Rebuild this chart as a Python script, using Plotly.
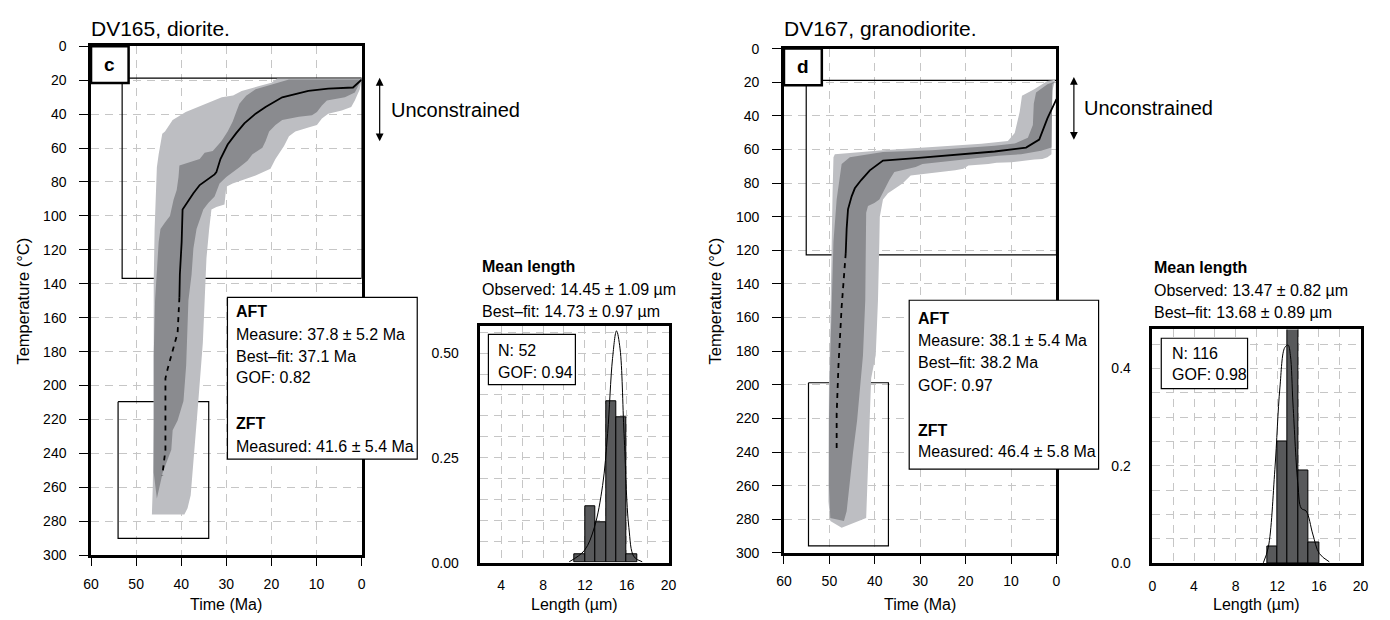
import plotly.graph_objects as go

W, H = 1390, 620
FONT = "Liberation Sans, Arial, Helvetica, sans-serif"
LIGHT = "#bdbec2"
DARK = "#8a8b8f"
BAR = "#58595b"
GRID = "#c6c6c6"

# ---------------- DV165 (panel c) ----------------
c_light_time = [0.0, 0.4, 1.5, 2.3, 4.4, 7.4, 8.8, 9.9, 11.8, 14.7, 16.1, 17.2, 19.1, 20.2, 23.5, 26.4, 28.6, 30.0,
                30.4, 32.2, 33.3, 33.8, 34.4, 34.8, 35.2, 36.2, 37.1, 37.9, 38.6, 39.3,
                46.5, 46.3, 46.1, 46.1, 46.1, 45.9, 45.7, 45.6, 45.4, 45.0, 44.6, 44.2, 43.6, 41.9, 39.0,
                36.0, 34.6, 31.0, 28.5, 26.6, 22.7, 20.0, 18.7]
c_light_temp = [19.0, 25.3, 32.0, 35.8, 37.8, 39.7, 42.5, 46.4, 47.9, 50.2, 53.1, 58.8, 66.5, 72.2, 76.1, 78.9, 80.9, 82.8,
                93.3, 94.7, 96.2, 107.7, 124.9, 149.8, 174.6, 209.0, 239.7, 264.6, 272.3, 276.0,
                276.0, 258.9, 220.6, 182.3, 138.3, 107.7, 92.4, 80.9, 71.3, 63.6, 57.9, 51.5, 50.2, 43.5, 38.7,
                35.5, 33.9, 30.1, 29.0, 26.3, 23.4, 21.5, 19.0]

c_dark_time = [16.1, 20.5, 23.5, 25.6, 27.1, 27.8, 28.6, 29.7, 31.1, 33.0, 34.8, 35.9, 38.1, 40.4, 40.6, 41.0, 41.7,
               42.1, 42.5, 43.6, 44.6, 45.0, 45.4, 45.8, 46.1, 46.1, 45.4,
               44.1, 42.2, 41.9, 40.8, 39.5, 38.9, 38.4, 37.7, 37.3, 36.6, 35.1, 34.0, 32.6, 31.5, 30.0, 27.1, 25.3,
               24.2, 22.0, 21.3, 20.5, 19.1, 17.6, 13.9, 11.0, 9.9, 8.8, 7.7, 3.7, 1.5, 0.4, 0.0]
c_dark_temp = [19.6, 23.0, 25.3, 29.1, 33.9, 38.7, 44.5, 50.2, 56.0, 61.7, 62.7, 66.5, 68.4, 70.3, 77.0, 84.7, 90.4,
               96.2, 100.0, 103.9, 107.7, 115.3, 134.5, 150.0, 182.3, 251.2, 266.5,
               251.2, 237.8, 226.3, 220.6, 209.1, 188.0, 149.7, 134.5, 119.2, 107.7, 96.2, 92.4, 88.5, 80.9, 77.0, 71.3, 67.4,
               63.6, 59.8, 56.0, 50.2, 46.4, 43.5, 41.6, 40.6, 38.7, 34.9, 32.0, 30.1, 27.2, 21.5, 19.6]

c_best_time = [0.0, 1.9, 7.4, 11.8, 17.6, 21.3, 23.5, 26.0, 27.8, 29.7, 31.3, 32.2, 32.6, 35.9, 37.3, 39.7, 39.9, 40.3, 40.4]
c_best_temp = [19.6, 24.3, 24.9, 26.3, 30.1, 35.8, 39.7, 45.4, 51.2, 57.9, 66.5, 74.2, 75.5, 81.8, 86.6, 96.2, 115.3, 134.5, 147.9]
c_dash_time = [40.4, 40.8, 43.0, 43.5, 43.5, 44.2]
c_dash_temp = [147.9, 168.9, 190.0, 195.7, 237.8, 253.1]

c_box1_time = [53.1, 0.0]
c_box1_temp = [18.8, 136.8]
c_box2_time = [54.0, 33.9]
c_box2_temp = [209.5, 290.1]

c_len_bins = [11.5, 12.5, 13.5, 14.5, 15.5, 16.5]
c_len_freq = [0.019, 0.135, 0.096, 0.385, 0.346, 0.019]
c_fit_len = [10.5, 11.95, 12.9, 13.69, 14.17, 14.64, 15.02, 15.36, 15.74, 16.2, 16.69, 17.48]
c_fit_freq = [0.002, 0.029, 0.084, 0.184, 0.308, 0.487, 0.553, 0.51, 0.308, 0.084, 0.014, 0.002]

# ---------------- DV167 (panel d) ----------------
d_light_time = [0.3, 0.9, 1.1, 1.1, 2.0, 3.1, 4.9, 9.9, 13.2, 15.0, 19.4, 20.5, 22.3, 28.8, 32.1, 33.9, 36.1, 37.1,
                38.2, 38.9, 39.0, 39.1, 39.3, 39.5, 39.8, 40.8, 41.0, 41.3, 41.5, 41.9,
                47.3, 49.8, 50.2, 50.2, 50.1, 49.8, 49.7, 49.6, 49.3, 49.1, 48.8, 38.2, 27.4, 16.5, 10.7, 9.2,
                8.1, 7.6, 4.9, 2.0]
d_light_temp = [18.5, 25.0, 45.0, 62.8, 64.7, 65.7, 66.0, 67.6, 67.9, 68.6, 69.5, 71.5, 72.4, 74.4, 75.5, 80.2, 84.0, 86.0,
                89.8, 100.0, 114.9, 134.3, 149.7, 163.2, 182.5, 196.1, 211.5, 240.5, 259.8, 279.2,
                285.0, 281.1, 269.5, 240.5, 201.9, 163.2, 143.9, 114.9, 86.0, 64.7, 62.8, 60.4, 58.5, 56.6, 55.0, 50.2,
                37.6, 28.0, 24.1, 19.3]

d_dark_time = [0.3, 0.9, 1.1, 3.4, 7.8, 12.8, 19.4, 29.5, 31.0, 35.7, 36.8, 37.9, 39.0, 40.1, 41.5, 41.9, 42.0, 42.1,
               42.6, 43.3, 43.9, 44.8, 45.5, 46.2, 46.8,
               49.8, 50.1, 50.1, 49.8, 49.4, 49.1, 48.4, 47.7, 47.3, 45.5, 41.1, 38.2, 27.4, 19.4, 13.6, 9.2, 6.3,
               5.2, 5.0, 4.5, 2.0]
d_dark_temp = [19.5, 21.2, 58.9, 60.8, 62.8, 63.7, 65.7, 68.6, 70.5, 73.4, 78.2, 84.0, 89.8, 91.8, 93.7, 97.6, 114.9, 149.7,
               182.5, 201.9, 221.2, 240.5, 259.8, 275.3, 281.1,
               279.2, 259.8, 221.2, 182.5, 149.7, 114.9, 89.8, 76.3, 68.6, 64.7, 62.8, 61.5, 60.5, 59.0, 57.8, 56.5, 53.1,
               45.4, 32.8, 26.1, 21.2]

d_best_time = [0.0, 2.0, 3.8, 6.7, 13.6, 23.7, 31.0, 38.2, 41.1, 43.0, 44.4, 45.1, 45.9, 46.2, 46.4]
d_best_temp = [30.0, 41.5, 54.1, 58.9, 61.2, 63.7, 65.1, 66.6, 72.4, 78.2, 83.1, 87.9, 95.6, 107.2, 121.7]
d_dash_time = [46.4, 46.9, 47.3, 48.0, 48.4, 48.4]
d_dash_temp = [121.7, 140.0, 153.6, 188.4, 217.4, 238.0]

d_box1_time = [55.1, 0.0]
d_box1_temp = [18.9, 122.7]
d_box2_time = [54.6, 37.0]
d_box2_temp = [198.8, 295.8]

d_len_bins = [11.5, 12.5, 13.5, 14.5, 15.5]
d_len_freq = [0.034, 0.25, 0.483, 0.19, 0.043]
d_fit_len = [10.66, 11.14, 11.77, 12.25, 12.72, 13.04, 13.26, 13.51, 13.99, 14.3, 14.78, 15.41, 16.04, 17.0]
d_fit_freq = [0.001, 0.033, 0.193, 0.36, 0.443, 0.448, 0.427, 0.327, 0.16, 0.113, 0.107, 0.06, 0.02, 0.003]

# ---------------- texts ----------------
c_title = "DV165, diorite."
d_title = "DV167, granodiorite."
c_aft = ["<b>AFT</b>", "Measure: 37.8 ± 5.2 Ma", "Best–fit: 37.1 Ma", "GOF: 0.82", "<b>ZFT</b>", "Measured: 41.6 ± 5.4 Ma"]
d_aft = ["<b>AFT</b>", "Measure: 38.1 ± 5.4 Ma", "Best–fit: 38.2 Ma", "GOF: 0.97", "<b>ZFT</b>", "Measured: 46.4 ± 5.8 Ma"]
c_mean = ["<b>Mean length</b>", "Observed: 14.45 ± 1.09 µm", "Best–fit: 14.73 ± 0.97 µm"]
d_mean = ["<b>Mean length</b>", "Observed: 13.47 ± 0.82 µm", "Best–fit: 13.68 ± 0.89 µm"]
c_n = ["N: 52", "GOF: 0.94"]
d_n = ["N: 116", "GOF: 0.98"]


def px(x):
    return x / W


def py(y):
    return 1 - y / H


fig = go.Figure()


def add_main(xa, ya, lt, lT, dt, dT, bt, bT, st, sT, b1t, b1T, b2t, b2T):
    for bx, bT_ in ((b1t, b1T), (b2t, b2T)):
        fig.add_trace(go.Scatter(x=[bx[0], bx[1], bx[1], bx[0], bx[0]], y=[bT_[0], bT_[0], bT_[1], bT_[1], bT_[0]],
                                 mode="lines", line=dict(color="black", width=1.2), xaxis=xa, yaxis=ya,
                                 hoverinfo="skip", showlegend=False))
    fig.add_trace(go.Scatter(x=lt, y=lT, fill="toself", fillcolor=LIGHT, mode="lines", line=dict(width=0),
                             xaxis=xa, yaxis=ya, showlegend=False))
    fig.add_trace(go.Scatter(x=dt, y=dT, fill="toself", fillcolor=DARK, mode="lines", line=dict(width=0),
                             xaxis=xa, yaxis=ya, showlegend=False))
    fig.add_trace(go.Scatter(x=bt, y=bT, mode="lines", line=dict(color="black", width=1.8),
                             xaxis=xa, yaxis=ya, showlegend=False))
    fig.add_trace(go.Scatter(x=st, y=sT, mode="lines", line=dict(color="black", width=1.8, dash="5px,5px"),
                             xaxis=xa, yaxis=ya, showlegend=False))


def add_hist(xa, ya, bins, freq, fl, ff):
    fig.add_trace(go.Bar(x=bins, y=freq, width=1, marker=dict(color=BAR, line=dict(color="black", width=1)),
                         xaxis=xa, yaxis=ya, showlegend=False))
    fig.add_trace(go.Scatter(x=fl, y=ff, mode="lines", line=dict(color="black", width=1, shape="spline"),
                             xaxis=xa, yaxis=ya, showlegend=False))


add_main("x", "y", c_light_time, c_light_temp, c_dark_time, c_dark_temp, c_best_time, c_best_temp,
         c_dash_time, c_dash_temp, c_box1_time, c_box1_temp, c_box2_time, c_box2_temp)
add_hist("x2", "y2", c_len_bins, c_len_freq, c_fit_len, c_fit_freq)
add_main("x3", "y3", d_light_time, d_light_temp, d_dark_time, d_dark_temp, d_best_time, d_best_temp,
         d_dash_time, d_dash_temp, d_box1_time, d_box1_temp, d_box2_time, d_box2_temp)
add_hist("x4", "y4", d_len_bins, d_len_freq, d_fit_len, d_fit_freq)

common = dict(showline=True, linecolor="black", linewidth=2.5, mirror=True, zeroline=False,
              showgrid=True, gridcolor=GRID, griddash="8px,6px", gridwidth=1,
              tickfont=dict(size=14, color="black", family=FONT))


def main_x(l, r, anchor):
    return dict(common, domain=[px(l), px(r)], range=[60, 0], tick0=0, dtick=10, ticks="outside", ticklen=8,
                tickwidth=1, tickcolor="black", anchor=anchor, ticklabelstandoff=6)


def main_y(t, b, anchor):
    return dict(common, domain=[py(b), py(t)], range=[300, 0], tick0=0, dtick=20, ticks="outside", ticklen=9,
                tickwidth=1, tickcolor="black", anchor=anchor, ticklabelstandoff=10)


def hist_x(l, r, rng, anchor):
    return dict(common, domain=[px(l), px(r)], range=rng, tick0=0, dtick=4, ticks="", anchor=anchor,
                ticklabelstandoff=8,
                minor=dict(dtick=2, tick0=0, showgrid=True, gridcolor=GRID, griddash="8px,6px", gridwidth=1))


def hist_y(t, b, rng, dtick, fmt, anchor):
    return dict(common, domain=[py(b), py(t)], range=rng, tick0=0, dtick=dtick, ticks="", tickformat=fmt,
                anchor=anchor, ticklabelstandoff=16,
                minor=dict(dtick=0.05, tick0=0, showgrid=True, gridcolor=GRID, griddash="8px,6px", gridwidth=1))


fig.update_layout(
    width=W, height=H, margin=dict(l=0, r=0, t=0, b=0), paper_bgcolor="white", plot_bgcolor="white",
    font=dict(family=FONT, color="black", size=16), bargap=0,
    xaxis=main_x(84, 357.7, "y"), yaxis=main_y(39.3, 561.7, "x"),
    xaxis2=hist_x(477.8, 668.3, [2, 20], "y2"), yaxis2=hist_y(326.7, 569.3, [0, 0.564], 0.25, ".2f", "x2"),
    xaxis3=main_x(785, 1060.7, "y3"), yaxis3=main_y(41.7, 559.3, "x3"),
    xaxis4=hist_x(1157.7, 1368.3, [0, 20], "y4"), yaxis4=hist_y(330, 570, [0, 0.48], 0.2, ".1f", "x4"),
)

shapes = []
annots = []


def box(l, t, r, b, width=1.2):
    shapes.append(dict(type="rect", xref="paper", yref="paper", x0=px(l), x1=px(r), y0=py(b), y1=py(t),
                       line=dict(color="black", width=width), fillcolor="white", layer="above"))


def text(s, x, y, size=16, xanchor="left", angle=0):
    annots.append(dict(text=s, x=px(x), y=py(y), xref="paper", yref="paper", showarrow=False,
                       xanchor=xanchor, yanchor="middle", font=dict(size=size, family=FONT, color="black"),
                       textangle=angle))


def arrow(x, y0, y1):
    annots.append(dict(text="", x=px(x), y=py(y0), xref="paper", yref="paper", ax=0, ay=y1 - y0,
                       showarrow=True, arrowhead=2, arrowside="end+start", arrowsize=1.3, arrowwidth=1.2,
                       arrowcolor="black", standoff=0, startstandoff=0))


panels = [
    dict(title=c_title, tx=82, lab="c", lbox=(84, 39.3, 122, 77), arr=(376, 71.7, 136.7), ux=385, uy=105,
         abox=(222, 297, 414, 463), ax=228.3, ay=[311.7, 335, 357.3, 379.3, 426.7, 450], aft=c_aft,
         mx=477.3, my=[265.7, 289, 311.7], mean=c_mean, nbox=(486, 335, 574, 386.7), nx=494, ny=[351.7, 374.3],
         nt=c_n, ycx=15, xc=220.9, hc=573),
    dict(title=d_title, tx=783, lab="d", lbox=(785, 41.7, 823.3, 79.3), arr=(1078.3, 70.7, 135), ux=1087, uy=103,
         abox=(911.7, 300, 1103.3, 473.3), ax=919, ay=[318.3, 341.7, 364, 387.3, 433.3, 455.7], aft=d_aft,
         mx=1157.7, my=[266.7, 290, 312.7], mean=d_mean, nbox=(1166.7, 339, 1254, 390.7), nx=1176,
         ny=[355, 376.7], nt=d_n, ycx=715, xc=922.9, hc=1263),
]

for p in panels:
    text(p["title"], p["tx"], 21, size=21)
    box(*p["lbox"], width=2.5)
    l, t, r, b = p["lbox"]
    text("<b>" + p["lab"] + "</b>", (l + r) / 2, (t + b) / 2, size=19, xanchor="center")
    arrow(*p["arr"])
    text("Unconstrained", p["ux"], p["uy"], size=20)
    box(*p["abox"])
    for s, yy in zip(p["aft"], p["ay"]):
        text(s, p["ax"], yy)
    for s, yy in zip(p["mean"], p["my"]):
        text(s, p["mx"], yy)
    box(*p["nbox"])
    for s, yy in zip(p["nt"], p["ny"]):
        text(s, p["nx"], yy)
    text("Temperature (°C)", p["ycx"], 300.5, size=16.5, xanchor="center", angle=-90)
    text("Time (Ma)", p["xc"], 612, size=16, xanchor="center")
    text("Length (µm)", p["hc"], 612, size=16, xanchor="center")

fig.update_layout(shapes=shapes, annotations=annots)
fig.write_html("out.html")
